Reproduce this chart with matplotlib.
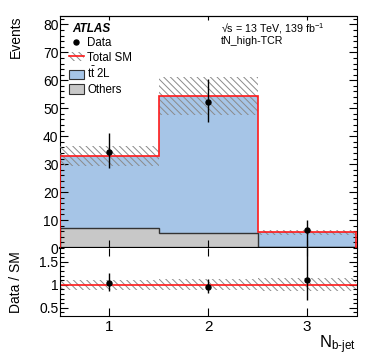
import numpy as np
import matplotlib
matplotlib.use("Agg")
import matplotlib.pyplot as plt
from matplotlib.patches import Patch
from matplotlib.lines import Line2D
from matplotlib.ticker import MultipleLocator, FuncFormatter

plt.rcParams['font.family'] = ['Liberation Sans', 'DejaVu Sans']
plt.rcParams['mathtext.fontset'] = 'custom'
plt.rcParams['mathtext.rm'] = 'Liberation Sans'
plt.rcParams['mathtext.it'] = 'Liberation Sans:italic'
plt.rcParams['mathtext.bf'] = 'Liberation Sans:bold'
plt.rcParams['hatch.linewidth'] = 0.7

# ---- data ----
nbjet = [1, 2, 3]
bin_edges = [0.5, 1.5, 2.5, 3.5]
others = [7.0, 5.3, 0.4]
ttbar_2l = [25.9, 49.1, 5.2]
unc_up = [36.5, 61.0, 6.4]
unc_down = [29.4, 47.7, 4.8]
data = [34.3, 52.4, 6.3]
data_hi = [41.2, 60.6, 10.0]
data_lo = [28.5, 45.1, 0.8]
ratio = [1.03, 0.96, 1.10]
ratio_hi = [1.25, 1.12, 1.9]
ratio_lo = [0.87, 0.81, 0.67]

x = np.array(nbjet, dtype=float)
others_a = np.array(others)
tt_a = np.array(ttbar_2l)
total = others_a + tt_a
up = np.array(unc_up)
dn = np.array(unc_down)

BLUE = '#a6c5e7'
GRAY = '#c8c8c8'
HATCH = '#8a8a8a'
RED = '#ff1a1a'

fig = plt.figure(figsize=(3.74, 3.63), dpi=100)
L, W = 60 / 374, (356.5 - 60) / 374
ax = fig.add_axes([L, 1 - 248 / 363, W, (248 - 16) / 363])
axr = fig.add_axes([L, 1 - 316 / 363, W, (316 - 248) / 363], sharex=ax)

# ---- main panel ----
ax.bar(x, others_a, width=1.0, color=GRAY, edgecolor='none', zorder=1)
ax.bar(x, tt_a, width=1.0, bottom=others_a, color=BLUE, edgecolor='none', zorder=1)
ax.stairs(others_a, bin_edges, color='#333333', lw=1.0, zorder=2)
ax.bar(x, up - dn, width=1.0, bottom=dn, facecolor='none', edgecolor=HATCH,
       hatch='\\\\\\\\\\', lw=0, zorder=3)
ax.stairs(total, bin_edges, color=RED, lw=1.2, zorder=4)
d = np.array(data)
ax.errorbar(x, d, yerr=[d - np.array(data_lo), np.array(data_hi) - d], fmt='o',
            color='black', ms=3.6, elinewidth=1.0, capsize=0, zorder=5)

ax.set_xlim(0.5, 3.5)
ax.set_ylim(0, 83)
ax.yaxis.set_major_locator(MultipleLocator(10))
ax.yaxis.set_minor_locator(MultipleLocator(2))
ax.set_xticks(nbjet)
ax.tick_params(axis='y', which='major', direction='in', length=5.8, width=0.8,
               right=True, labelsize=10, pad=1)
ax.tick_params(axis='y', which='minor', direction='in', length=3.2, width=0.8, right=True)
ax.tick_params(axis='x', which='major', direction='in', length=5.8, width=0.8,
               labelbottom=False)
for s in ax.spines.values():
    s.set_linewidth(0.8)
ax.spines['bottom'].set_linewidth(1.6)
sec = ax.secondary_xaxis('top')
sec.set_xticks(nbjet)
sec.tick_params(direction='in', length=3, width=0.8, labeltop=False)

# legend
handles = [
    Line2D([], [], marker='o', color='black', ls='none', ms=3.6),
    (Patch(facecolor='none', edgecolor=HATCH, hatch='\\\\\\\\\\', lw=0),
     Line2D([], [], color=RED, lw=1.2)),
    Patch(facecolor=BLUE, edgecolor='#333333', lw=0.8),
    Patch(facecolor=GRAY, edgecolor='#333333', lw=0.8),
]
labels = ['Data', 'Total SM', r'$\mathrm{t\bar{t}}$ 2L', 'Others']
fig.legend(handles, labels, loc='upper left', bbox_to_anchor=(69 / 374, 1 - 37 / 363),
           frameon=False, fontsize=8.3, handlelength=1.3, handleheight=0.9,
           handletextpad=0.3, labelspacing=0.22, borderpad=0, borderaxespad=0)

fig.text(72 / 374, 1 - 29 / 363, 'ATLAS', fontsize=8.5, fontweight='bold',
         style='italic', va='center', ha='left')
fig.text(221 / 374, 1 - 29 / 363, '√s = 13 TeV, 139 fb$^{-1}$', fontsize=7.7,
         va='center', ha='left')
fig.text(221 / 374, 1 - 41 / 363, 'tN_high-TCR', fontsize=7.7, va='center', ha='left')
fig.text(16 / 374, 1 - 16 / 363, 'Events', rotation=90, fontsize=10,
         ha='center', va='top')

# ---- ratio panel ----
rel_up = up / total
rel_dn = dn / total
axr.bar(x, rel_up - rel_dn, width=1.0, bottom=rel_dn, facecolor='none',
        edgecolor=HATCH, hatch='\\\\\\\\\\', lw=0, zorder=1)
axr.axhline(1.0, color=RED, lw=1.2, zorder=2)
r = np.array(ratio)
axr.errorbar(x, r, yerr=[r - np.array(ratio_lo), np.array(ratio_hi) - r], fmt='o',
             color='black', ms=3.6, elinewidth=1.0, capsize=0, zorder=5)
axr.set_ylim(0.32, 1.8)
axr.yaxis.set_major_locator(MultipleLocator(0.5))
axr.yaxis.set_minor_locator(MultipleLocator(0.1))
axr.yaxis.set_major_formatter(FuncFormatter(lambda v, p: f'{v:g}'))
axr.tick_params(axis='y', which='major', direction='in', length=5.8, width=0.8,
                right=True, labelsize=10, pad=1)
axr.tick_params(axis='y', which='minor', direction='in', length=3.2, width=0.8, right=True)
axr.tick_params(axis='x', which='major', direction='in', length=5.8, width=0.8,
                top=True, labelsize=11, pad=3)
axr.tick_params(axis='x', which='minor', bottom=False, top=False)
for s in axr.spines.values():
    s.set_linewidth(0.8)
axr.spines['top'].set_visible(False)
fig.text(16 / 374, 1 - 282 / 363, 'Data / SM', rotation=90, fontsize=10,
         ha='center', va='center')
fig.text(356 / 374, 1 - 345 / 363, r'$\mathrm{N}_{\text{b-jet}}$', fontsize=12,
         ha='right', va='center')

fig.savefig('out.png', dpi=100)
